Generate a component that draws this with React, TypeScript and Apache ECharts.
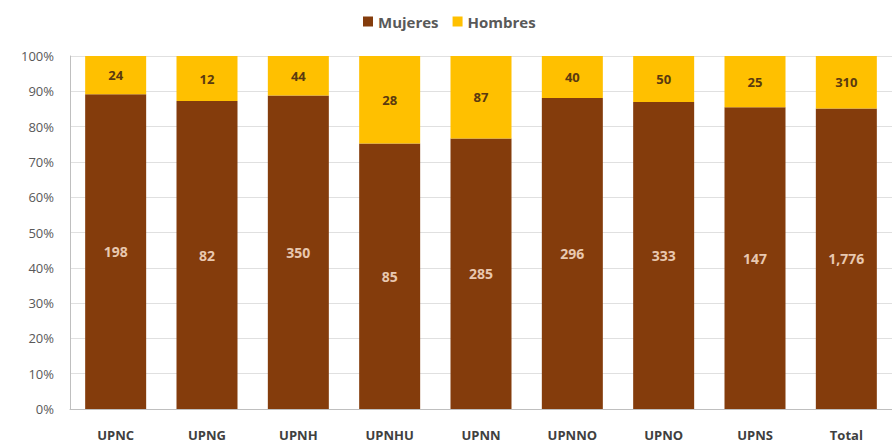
import React, { useEffect, useRef } from "react";
import * as echarts from "echarts";

const categories = ["UPNC", "UPNG", "UPNH", "UPNHU", "UPNN", "UPNNO", "UPNO", "UPNS", "Total"];
const mujeres = [198, 82, 350, 85, 285, 296, 333, 147, 1776];
const hombres = [24, 12, 44, 28, 87, 40, 50, 25, 310];

const fmt = (n: number) => n.toLocaleString("en-US");
const FONT = "'Open Sans', sans-serif";

export default function App() {
  const ref = useRef<HTMLDivElement>(null);
  useEffect(() => {
    if (!ref.current) return;
    const chart = echarts.init(ref.current, null, { renderer: "svg" });
    const totals = mujeres.map((m, i) => m + hombres[i]);
    const mPct = mujeres.map((m, i) => ({ value: (m / totals[i]) * 100, raw: m }));
    const hPct = hombres.map((h, i) => ({ value: (h / totals[i]) * 100, raw: h }));
    chart.setOption({
      animation: false,
      textStyle: { fontFamily: FONT },
      legend: {
        top: 9,
        left: 358,
        itemWidth: 10,
        itemHeight: 10,
        itemGap: 14,
        icon: "rect",
        textStyle: { color: "#595959", fontSize: 15, fontWeight: "bold", fontFamily: FONT },
        data: ["Mujeres", "Hombres"],
      },
      grid: { left: 70, top: 56, width: 826, height: 353, containLabel: false },
      xAxis: {
        type: "category",
        data: categories,
        axisLine: { lineStyle: { color: "#bfbfbf" } },
        axisTick: { show: false },
        axisLabel: { color: "#404040", fontSize: 13, fontWeight: "bold", margin: 19, fontFamily: FONT },
      },
      yAxis: {
        type: "value",
        min: 0,
        max: 100,
        interval: 10,
        axisLine: { show: true, lineStyle: { color: "#bfbfbf" } },
        axisTick: { show: false },
        splitLine: { lineStyle: { color: "#e0e0e0" } },
        axisLabel: { color: "#595959", fontSize: 13, formatter: "{value}%", margin: 16, fontFamily: FONT },
      },
      series: [
        {
          name: "Mujeres",
          type: "bar",
          stack: "a",
          barWidth: 61,
          data: mPct,
          itemStyle: { color: "#843C0C" },
          label: {
            show: true,
            position: "inside",
            color: "#e8c8b0",
            fontSize: 14,
            fontWeight: "bold",
            fontFamily: FONT,
            formatter: (p: any) => fmt(p.data.raw),
          },
        },
        {
          name: "Hombres",
          type: "bar",
          stack: "a",
          barWidth: 61,
          data: hPct,
          itemStyle: { color: "#FFC000" },
          label: {
            show: true,
            position: "inside",
            color: "#5a3a10",
            fontSize: 13,
            fontWeight: "bold",
            fontFamily: FONT,
            formatter: (p: any) => fmt(p.data.raw),
          },
        },
      ],
    });
    return () => chart.dispose();
  }, []);
  return <div ref={ref} style={{ width: 892, height: 443, position: "absolute", left: 0, top: 0, background: "#fff" }} />;
}
